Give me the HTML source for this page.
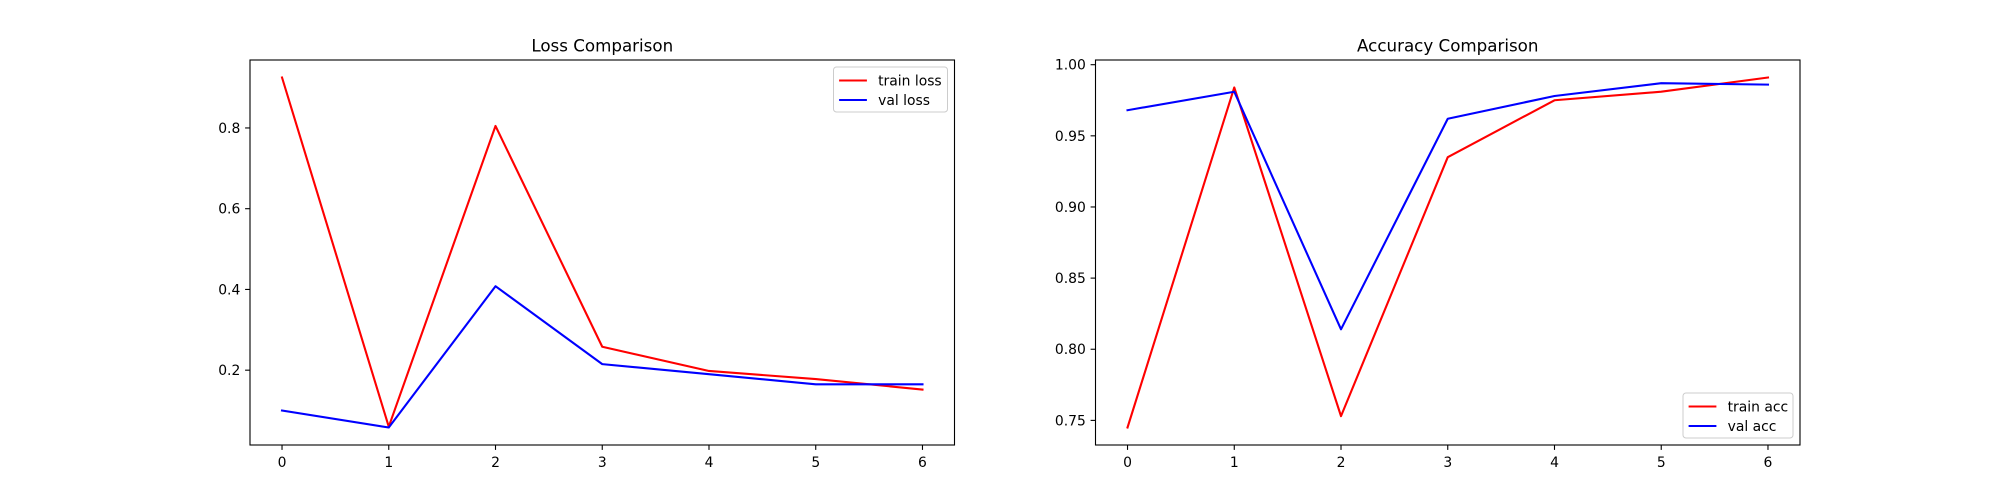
<!DOCTYPE html>
<html><head><meta charset="utf-8"><style>
html,body{margin:0;padding:0;background:#fff;}
svg{display:block;font-family:"DejaVu Sans","Liberation Sans",sans-serif;}
</style></head><body>
<svg id="fig" width="2000" height="500" viewBox="0 0 2000 500"></svg>
<script>
const epochs = [0,1,2,3,4,5,6];
const trainLoss = [0.925,0.060,0.805,0.258,0.198,0.178,0.152];
const valLoss = [0.100,0.058,0.408,0.215,0.190,0.165,0.165];
const trainAcc = [0.745,0.984,0.753,0.935,0.975,0.981,0.991];
const valAcc = [0.968,0.981,0.814,0.962,0.978,0.987,0.986];
const xTicks = [0,1,2,3,4,5,6];
const lossTicks = [0.2,0.4,0.6,0.8];
const lossTickLabels = ["0.2","0.4","0.6","0.8"];
const accTicks = [0.75,0.80,0.85,0.90,0.95,1.00];
const accTickLabels = ["0.75","0.80","0.85","0.90","0.95","1.00"];

const NS="http://www.w3.org/2000/svg";
const svg=document.getElementById('fig');
function mk(tag,attrs,parent){const e=document.createElementNS(NS,tag);for(const k in attrs)e.setAttribute(k,attrs[k]);(parent||svg).appendChild(e);return e;}

function panel(opts){
  const L=opts.left,R=opts.left+704.5,T=60,B=445;
  const g=mk('g',{});
  
  
  const all=opts.series.flatMap(s=>s.values);
  const mn=Math.min(...all),mx=Math.max(...all),m=(mx-mn)*0.05;
  const y0=mn-m,y1=mx+m;
  const x0=-0.3,x1=6.3;
  const sx=v=>L+(v-x0)/(x1-x0)*(R-L);
  const sy=v=>B-(v-y0)/(y1-y0)*(B-T);
  // series
  opts.series.forEach(s=>{
    const p=mk('polyline',{points:epochs.map((e,i)=>sx(e)+','+sy(s.values[i])).join(' '),fill:'none',stroke:s.color,'stroke-width':2.1,'stroke-linejoin':'round','stroke-linecap':'square'},g);
    
    
  });
  const fr=mk('rect',{x:L,y:T,width:R-L,height:B-T,fill:'none',stroke:'#000','stroke-width':1.1},g);
  
  
  xTicks.forEach(t=>{
    mk('line',{x1:sx(t),x2:sx(t),y1:B,y2:B+4.9,stroke:'#000','stroke-width':1.1},g);
    const tx=mk('text',{x:sx(t),y:B+22,'font-size':13.9,'text-anchor':'middle',fill:'#000'},g);
    tx.textContent=String(t);
    
    
  });
  opts.yTicks.forEach((t,i)=>{
    mk('line',{x1:L-4.9,x2:L,y1:sy(t),y2:sy(t),stroke:'#000','stroke-width':1.1},g);
    const tx=mk('text',{x:L-9.7,y:sy(t)+5,'font-size':13.9,'text-anchor':'end',fill:'#000'},g);
    tx.textContent=opts.yLabels[i];
    
    
  });
  const title=mk('text',{x:(L+R)/2,y:T-8.5,'font-size':16.7,'text-anchor':'middle',fill:'#000'},g);
  title.textContent=opts.title;
  
  
  // legend
  const lw=opts.legendW,lh=45;
  const lx=R-7-lw, ly=opts.legendTop?T+7:B-7-lh;
  const lg=mk('g',{},g);
  
  
  mk('rect',{x:lx,y:ly,width:lw,height:lh,rx:3,fill:'#fff','fill-opacity':0.8,stroke:'#ccc','stroke-width':1},lg);
  opts.series.forEach((s,i)=>{
    const cy=ly+13.5+i*19.5;
    mk('line',{x1:lx+5.6,x2:lx+33.4,y1:cy,y2:cy,stroke:s.color,'stroke-width':2.1},lg);
    const tx=mk('text',{x:lx+44.6,y:cy+5,'font-size':13.9,fill:'#000'},lg);
    tx.textContent=s.label;
    
    
  });
}
panel({name:'loss-chart',left:250,title:'Loss Comparison',yTicks:lossTicks,yLabels:lossTickLabels,legendTop:true,legendW:114,
  series:[{id:'train-loss',label:'train loss',color:'#ff0000',values:trainLoss},{id:'val-loss',label:'val loss',color:'#0000ff',values:valLoss}]});
panel({name:'accuracy-chart',left:1095.5,title:'Accuracy Comparison',yTicks:accTicks,yLabels:accTickLabels,legendTop:false,legendW:110,
  series:[{id:'train-acc',label:'train acc',color:'#ff0000',values:trainAcc},{id:'val-acc',label:'val acc',color:'#0000ff',values:valAcc}]});
</script>
</body></html>
